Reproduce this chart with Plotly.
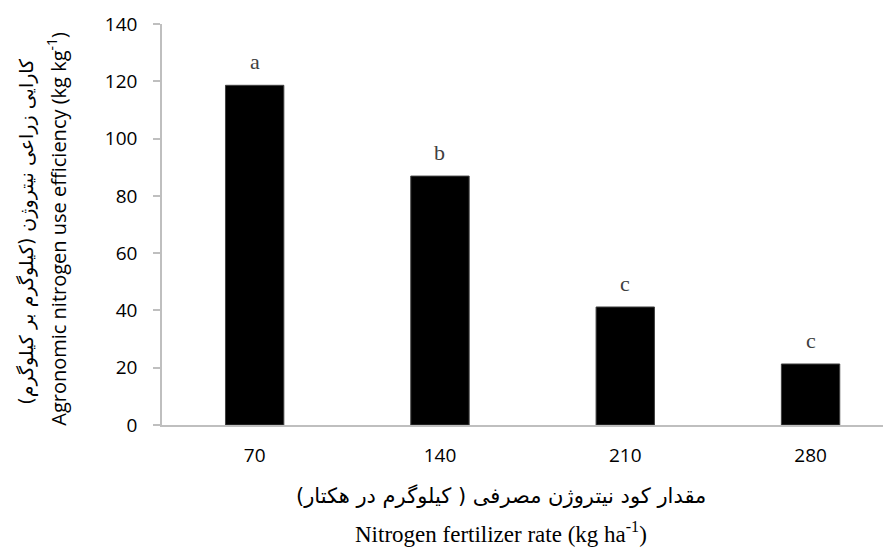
import plotly.graph_objects as go

# ---- data ----
rates = ["70", "140", "210", "280"]
efficiency = [118.6, 86.9, 41.2, 21.3]
letters = ["a", "b", "c", "c"]
y_ticks = [0, 20, 40, 60, 80, 100, 120, 140]

y_title_fa = "کارایی زراعی نیتروژن (کیلوگرم بر کیلوگرم)"
y_title_en = "Agronomic nitrogen use efficiency (kg kg<sup>-1</sup>)"
x_title_fa = "مقدار کود نیتروژن مصرفی ( کیلوگرم در هکتار)"
x_title_en = "Nitrogen fertilizer rate (kg ha<sup>-1</sup>)"

# ---- layout geometry (screen pixels; page body has an 8px margin) ----
OFF = 8
SCREEN_W, SCREEN_H = 891, 549
W, H = SCREEN_W - OFF, SCREEN_H - OFF
PLOT_LEFT, PLOT_TOP, PLOT_BOTTOM = 162, 24, 425.5
L = PLOT_LEFT - OFF
T = PLOT_TOP - OFF
B = H - (PLOT_BOTTOM - OFF)
R = 0
plot_w = W - L - R
plot_h = H - T - B


def px_x(px):
    return (px - OFF - L) / plot_w


def px_y(py):
    return (H - B - (py - OFF)) / plot_h


fig = go.Figure()
fig.add_trace(go.Bar(
    x=rates, y=efficiency, width=0.315,
    marker=dict(color="#000000", line=dict(color="#404040", width=1)),
    hoverinfo="x+y",
))

annotations = []
for i, (v, l) in enumerate(zip(efficiency, letters)):
    annotations.append(dict(
        x=i, y=v, xref="x", yref="y", text=l, showarrow=False,
        yanchor="bottom", yshift=9,
        font=dict(family="Liberation Serif", size=22, color="#404040"),
    ))

annotations += [
    dict(x=px_x(27), y=px_y(232), xref="paper", yref="paper", text=y_title_fa,
         showarrow=False, textangle=-90, xanchor="center", yanchor="middle",
         font=dict(family="DejaVu Sans", size=19, color="#000000")),
    dict(x=px_x(57), y=px_y(229), xref="paper", yref="paper", text=y_title_en,
         showarrow=False, textangle=-90, xanchor="center", yanchor="middle",
         font=dict(family="Open Sans", size=20, color="#000000")),
    dict(x=px_x(501), y=px_y(497), xref="paper", yref="paper", text=x_title_fa,
         showarrow=False, xanchor="center", yanchor="middle",
         font=dict(family="DejaVu Sans", size=21, color="#000000")),
    dict(x=px_x(501), y=px_y(533), xref="paper", yref="paper", text=x_title_en,
         showarrow=False, xanchor="center", yanchor="middle",
         font=dict(family="Liberation Serif", size=23, color="#000000")),
]

fig.update_layout(
    width=W, height=H,
    margin=dict(l=L, r=R, t=T, b=B, pad=0),
    paper_bgcolor="white", plot_bgcolor="white",
    showlegend=False,
    annotations=annotations,
    xaxis=dict(
        type="category", range=[-0.5, 3.434],
        showline=True, linecolor="#bfbfbf", linewidth=1.5,
        ticks="", showgrid=False, zeroline=False,
        ticklabelstandoff=12,
        tickfont=dict(family="Open Sans", size=19, color="#000000"),
    ),
    yaxis=dict(
        range=[0, 140], tickvals=y_ticks,
        showline=True, linecolor="#bfbfbf", linewidth=1.5,
        ticks="outside", ticklen=7, tickcolor="#bfbfbf", tickwidth=1.5,
        showgrid=False, zeroline=False,
        ticklabelstandoff=12,
        tickfont=dict(family="Open Sans", size=19, color="#000000"),
    ),
)

fig.write_html("out.html")
